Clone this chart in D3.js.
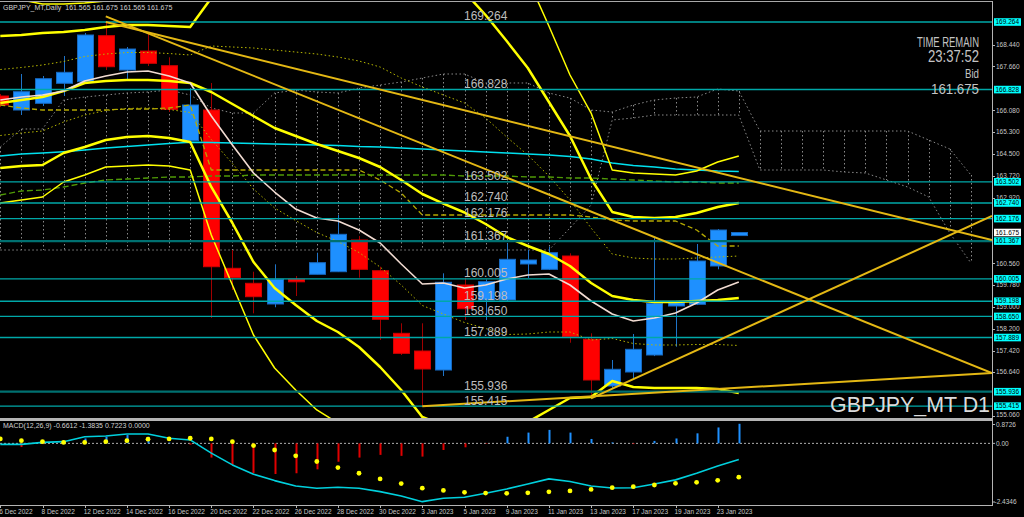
<!DOCTYPE html>
<html><head><meta charset="utf-8">
<script src="https://cdn.jsdelivr.net/npm/d3@7/dist/d3.min.js"></script>
<style>
html,body{margin:0;padding:0;background:#000;overflow:hidden;}
svg{display:block;font-family:"Liberation Sans",Arial,sans-serif;}
</style></head><body>
<svg id="c" width="1024" height="517"></svg>
<script>
// ---------- DATA ----------
const dateLabels = ["6 Dec 2022","8 Dec 2022","12 Dec 2022","14 Dec 2022","16 Dec 2022","20 Dec 2022","22 Dec 2022","26 Dec 2022","28 Dec 2022","30 Dec 2022","3 Jan 2023","5 Jan 2023","9 Jan 2023","11 Jan 2023","13 Jan 2023","17 Jan 2023","19 Jan 2023","23 Jan 2023"];
const dateLabelBars = [0,2,4,6,8,10,12,14,16,18,20,22,24,26,28,30,32,34];

const open  = [166.596,166.091,166.333,167.054,167.112,168.770,167.533,168.218,167.688,164.985,166.091,160.385,159.844,159.098,159.988,160.168,160.262,161.405,160.298,158.041,157.403,156.718,159.783,159.242,159.242,160.540,160.348,160.828,157.825,156.142,156.646,157.259,159.026,159.087,160.468,161.565];
const high  = [166.668,167.389,167.317,168.038,168.867,169.264,168.362,168.867,167.991,166.884,167.065,161.044,160.262,160.529,160.107,160.947,162.306,161.549,160.442,158.402,158.402,160.204,160.046,159.980,161.286,161.044,161.163,160.925,158.041,157.079,158.016,161.502,159.210,161.261,161.800,161.675];
const low   = [166.199,165.911,166.236,166.596,167.065,167.533,167.173,167.678,166.019,164.938,158.593,159.602,158.762,158.979,159.386,160.168,160.250,160.046,157.800,157.259,155.415,156.502,158.521,158.521,159.170,160.035,160.323,157.702,155.698,156.070,156.383,157.220,157.558,159.060,160.348,161.565];
const close = [166.272,166.751,167.220,167.450,168.795,167.652,168.290,167.775,166.116,166.272,160.442,160.046,159.361,159.988,159.901,160.587,161.610,160.348,158.546,157.320,156.754,159.880,158.928,159.901,160.709,160.684,160.947,157.919,156.358,156.744,157.464,159.123,159.144,160.648,161.765,161.675];

// Bollinger bands (middle, +-1, +-2, +-3 sigma)
const bbMid = [166.344,166.452,166.560,166.777,167.065,167.137,167.173,167.173,167.137,167.065,166.740,166.308,165.875,165.443,165.154,164.866,164.613,164.361,164.037,163.568,163.063,162.717,162.396,161.982,161.513,161.189,160.900,160.468,159.855,159.386,159.242,159.170,159.170,159.206,159.242,159.314];
const bbUp1 = [167.552,167.624,167.714,167.840,168.020,168.110,168.164,168.164,168.128,168.074,168.399,168.363,168.327,168.254,168.182,168.110,168.002,167.858,167.642,167.245,166.921,166.632,166.344,165.803,165.118,164.469,163.712,162.847,161.838,160.900,160.756,160.720,160.720,160.756,160.792,160.828];
const bbUp2 = [168.759,168.795,168.867,168.903,168.976,169.084,169.156,169.156,169.120,169.084,170.129,170.454,170.778,171.066,171.211,171.355,171.391,171.355,171.247,170.922,170.778,170.526,170.345,169.516,168.579,167.606,166.380,165.154,163.604,162.417,162.234,162.198,162.234,162.378,162.595,162.739];
const bbUp3 = [170.165,170.057,169.913,169.913,169.949,170.021,170.129,170.165,170.129,170.093,171.823,172.508,173.157,173.878,174.239,174.599,174.780,174.852,174.852,174.599,174.635,174.744,174.311,173.265,172.112,170.814,169.120,167.353,165.983,163.929,163.820,163.784,163.748,163.893,164.217,164.433];
const bbLo1 = [165.172,165.262,165.334,165.659,165.911,166.073,166.146,166.164,166.110,166.001,165.028,164.163,163.244,162.559,162.108,161.675,161.351,160.954,160.432,159.783,159.044,158.737,158.431,158.215,157.998,158.016,158.088,158.088,157.800,157.854,157.674,157.620,157.620,157.638,157.638,157.602];
const bbLo2 = [164.001,164.073,164.109,164.541,164.758,165.010,165.118,165.154,165.082,164.938,163.316,162.018,160.612,159.675,159.062,158.485,158.088,157.548,156.827,155.998,155.024,154.736,154.483,154.447,154.483,154.844,155.277,155.709,155.745,156.322,156.106,156.070,156.070,156.070,156.034,155.890];
const bbLo3 = [162.739,162.847,162.955,163.496,163.749,164.037,164.073,164.109,164.073,163.929,161.585,159.783,157.980,156.791,155.998,155.277,154.808,154.159,153.222,152.212,151.059,150.770,150.518,150.663,150.987,151.672,152.464,153.330,153.690,154.808,154.555,154.519,154.519,154.519,154.447,154.195];

// moving averages
const maFast = [166.452,166.560,166.632,166.777,167.137,167.317,167.461,167.497,167.317,167.065,165.875,164.830,163.820,163.135,162.522,162.198,162.090,161.765,161.297,160.540,159.819,159.855,159.675,159.783,159.999,160.143,160.180,159.783,159.206,158.737,158.485,158.593,158.773,159.133,159.602,159.891];
const maSlow = [164.433,164.505,164.541,164.588,164.649,164.722,164.776,164.830,164.884,164.927,164.920,164.902,164.884,164.866,164.848,164.830,164.812,164.776,164.758,164.722,164.686,164.649,164.613,164.577,164.541,164.505,164.469,164.415,164.325,164.181,164.091,164.037,163.965,163.928,163.892,163.874];

// Ichimoku
const tenkan = [166.272,166.164,166.091,166.091,166.091,166.091,166.128,166.128,166.164,166.272,163.928,163.928,163.928,163.928,163.928,163.928,163.928,163.928,163.568,163.099,162.306,162.306,162.306,162.306,162.306,162.306,162.306,162.306,162.234,162.126,162.090,162.090,162.090,161.765,161.189,161.189];
const kijun  = [163.027,163.171,163.207,163.316,163.460,163.568,163.604,163.640,163.676,163.676,163.712,163.712,163.748,163.748,163.748,163.748,163.748,163.748,163.748,163.748,163.748,163.748,163.712,163.712,163.712,163.676,163.676,163.640,163.640,163.604,163.568,163.532,163.496,163.496,163.460,163.460];
const spanUpper = [164.758,165.407,165.407,166.452,166.560,166.632,166.704,166.740,166.812,166.632,166.164,165.983,165.983,166.704,166.812,166.740,166.704,166.885,166.993,167.101,167.245,167.389,167.389,167.065,167.065,167.065,166.704,166.524,166.091,166.019,166.272,166.452,166.524,166.560,166.849,166.776,165.334,165.334,165.334,165.334,165.334,165.334,165.334,165.334,165.010,164.686,163.748];
const spanLower = [161.044,161.044,161.044,161.044,161.044,161.044,161.044,161.044,161.044,161.044,161.044,161.044,161.044,161.044,161.044,161.044,161.044,161.044,161.044,161.044,161.044,161.044,161.044,161.044,161.044,161.044,161.044,161.838,162.667,165.731,165.803,165.911,165.911,165.911,165.911,165.911,163.928,163.928,163.928,163.928,163.856,163.820,163.568,163.316,162.955,161.657,160.576];

// horizontal levels and trend lines (bar index, price)
const levels = [169.264,166.828,163.502,162.740,162.176,161.367,160.005,159.198,158.650,157.889,155.936,155.415];
const darkLevels = [161.367,155.936];
const trendFrom = [[5,169.264],[5,169.469],[20,155.415],[28,155.698]];
const trendTo   = [[47,161.405],[47,156.610],[47,156.610],[47,162.270]];
const bid = 161.675;
const priceTicks = [168.440,167.660,166.080,165.300,164.500,163.720,162.920,160.560,159.780,159.000,158.200,157.420,156.640,155.060];

// MACD(12,26,9)
const macd   = [-0.04,-0.04,0.04,0.07,0.27,0.30,0.38,0.38,0.21,0.14,-0.40,-0.88,-1.26,-1.52,-1.74,-1.83,-1.79,-1.83,-1.97,-2.15,-2.38,-2.24,-2.20,-2.04,-1.86,-1.66,-1.45,-1.56,-1.74,-1.82,-1.81,-1.66,-1.49,-1.22,-0.92,-0.66];
const signal = [0.18,0.11,0.07,0.04,0.04,0.07,0.11,0.17,0.18,0.21,0.18,0.07,-0.09,-0.27,-0.51,-0.74,-0.99,-1.22,-1.45,-1.64,-1.83,-1.92,-2.00,-2.03,-2.04,-2.02,-1.98,-1.94,-1.88,-1.81,-1.77,-1.70,-1.63,-1.59,-1.51,-1.38];
const hist   = [0,-0.15,-0.03,0.03,0.20,0.27,0.34,0.27,0.03,-0.05,-0.58,-0.88,-1.22,-1.25,-1.22,-1.06,-0.75,-0.58,-0.47,-0.51,-0.54,-0.27,-0.16,-0.02,0.27,0.44,0.55,0.44,0.18,0.04,-0.03,0.10,0.20,0.41,0.65,0.80];
const macdTicks = [0.8726,0,-2.4346];
const macdTickText = ["0.8726","0.00","-2.4346"];
const macdTitleValues = [-0.6612,-1.3835,0.7223,0.0000];

// ---------- DRAW ----------
const svg = d3.select("#c");
const PR = 992;
const x = d3.scaleLinear().domain([0,47]).range([0.3,992]);
const y = d3.scaleLinear().domain([154.952,169.985]).range([419,2]);
const ym = d3.scaleLinear().domain([-2.4346,0.8726]).range([503,422]);

svg.append("rect").attr("width",1024).attr("height",517).attr("fill","#000");
const defs = svg.append("defs");
defs.append("clipPath").attr("id","cm").append("rect").attr("x",0).attr("y",2).attr("width",PR).attr("height",416);
defs.append("clipPath").attr("id","cs").append("rect").attr("x",0).attr("y",421).attr("width",PR).attr("height",84);

const gm = svg.append("g").attr("clip-path","url(#cm)");
const lineGen = sc => d3.line().x((d,i)=>x(i)).y(d=>sc(d));
const px = v => Math.round(v)+0.5;

// cloud
gm.append("path").attr("d",lineGen(y)(spanUpper)).attr("fill","none").attr("stroke","#8a8a8a").attr("stroke-width",1).attr("stroke-dasharray","1.5,2.5");
gm.append("path").attr("d",lineGen(y)(spanLower)).attr("fill","none").attr("stroke","#8a8a8a").attr("stroke-width",1).attr("stroke-dasharray","1.5,2.5");
gm.selectAll("line.hatch").data(spanUpper).enter().append("line").attr("class","hatch")
  .attr("x1",(d,i)=>px(x(i))).attr("x2",(d,i)=>px(x(i)))
  .attr("y1",d=>y(d)).attr("y2",(d,i)=>y(spanLower[i]))
  .attr("stroke","#8a8a8a").attr("stroke-width",1).attr("stroke-dasharray","1.5,2.5");

// candles
const cg = gm.append("g");
open.forEach((o,i)=>{
  const c = close[i], up = c>=o;
  cg.append("line").attr("x1",px(x(i))).attr("x2",px(x(i))).attr("y1",y(high[i])).attr("y2",y(low[i]))
    .attr("stroke",up?"#1f74c8":"#a00000").attr("stroke-width",1);
  const t = y(Math.max(o,c)), b = y(Math.min(o,c));
  cg.append("rect").attr("x",Math.round(x(i))-7.5).attr("y",t).attr("width",16).attr("height",Math.max(b-t,2.5))
    .attr("fill",up?"#1e90ff":"#ff0000").attr("stroke",up?"#1769c0":"#d00000").attr("stroke-width",1);
});

// bands
const drawL = (arr,col,w,dash,g=gm,sc=y)=>g.append("path").attr("d",lineGen(sc)(arr)).attr("fill","none")
  .attr("stroke",col).attr("stroke-width",w).attr("stroke-dasharray",dash||null).attr("stroke-linejoin","round");
drawL(bbUp1,"#b8b800",1,"1.5,2.5");
drawL(bbLo1,"#b8b800",1,"1.5,2.5");
drawL(tenkan,"#b4a800",1.3,"5,3");
drawL(kijun,"#4f9a06",1.3,"6,3");
drawL(maSlow,"#00e0ee",1.6);
drawL(bbUp3,"#ffff00",1.5);
drawL(bbLo3,"#ffff00",1.5);
drawL(bbUp2,"#ffff00",2.5);
drawL(bbLo2,"#ffff00",2.5);
drawL(bbMid,"#ffff00",2.5);
drawL(maFast,"#f2dcd2",1.6);

// horizontal levels
levels.forEach(v=>{
  const dark = darkLevels.includes(v);
  gm.append("line").attr("x1",0).attr("x2",PR).attr("y1",y(v)).attr("y2",y(v))
    .attr("stroke",dark?"#007070":"#00a8a8").attr("stroke-width",dark?2.2:1.4);
});
// trend lines
trendFrom.forEach((a,i)=>{
  const b = trendTo[i];
  gm.append("line").attr("x1",x(a[0])).attr("y1",y(a[1])).attr("x2",x(b[0])).attr("y2",y(b[1]))
    .attr("stroke","#e4b814").attr("stroke-width",2);
});
// level texts
levels.forEach(v=>{
  svg.append("text").attr("x",464).attr("y",y(v)-1.5).attr("font-size",12).attr("fill","#bdbdbd").text(v.toFixed(3));
});

// panel borders
svg.append("line").attr("x1",0).attr("x2",PR).attr("y1",1.5).attr("y2",1.5).attr("stroke","#a8a8a8").attr("stroke-width",1);
svg.append("line").attr("x1",0).attr("x2",PR+1).attr("y1",505.5).attr("y2",505.5).attr("stroke","#b4b4b4").attr("stroke-width",1);
svg.append("line").attr("x1",PR+0.5).attr("x2",PR+0.5).attr("y1",1).attr("y2",506).attr("stroke","#b4b4b4").attr("stroke-width",1);

// price axis
priceTicks.forEach(v=>{
  svg.append("line").attr("x1",PR).attr("x2",PR+3).attr("y1",px(y(v))).attr("y2",px(y(v))).attr("stroke","#b4b4b4");
  svg.append("text").attr("x",996).attr("y",Math.min(y(v),415)).attr("dy","0.35em").attr("font-size",6.5).attr("fill","#c8c8c8").text(v.toFixed(3));
});
levels.forEach(v=>{
  svg.append("rect").attr("x",994).attr("y",y(v)-3.8).attr("width",27).attr("height",7.6).attr("fill","#00ffff");
  svg.append("text").attr("x",995.5).attr("y",y(v)).attr("dy","0.35em").attr("font-size",6.5).attr("fill","#000").text(v.toFixed(3));
});
svg.append("rect").attr("x",994).attr("y",y(bid)-3.8).attr("width",27).attr("height",7.6).attr("fill","#ffffff");
svg.append("text").attr("x",995.5).attr("y",y(bid)).attr("dy","0.35em").attr("font-size",6.5).attr("fill","#000").text(bid.toFixed(3));

// texts
svg.append("text").attr("x",3).attr("y",10).attr("font-size",7).attr("fill","#d0d0d0").attr("xml:space","preserve")
  .text("GBPJPY_MT,Daily  "+[open[35],high[35],low[35],close[35]].map(v=>v.toFixed(3)).join(" "));
const rt = (t,yy,fs,len)=>svg.append("text").attr("x",979).attr("y",yy).attr("text-anchor","end").attr("font-size",fs)
  .attr("fill","#c4c4c4").attr("textLength",len).attr("lengthAdjust","spacingAndGlyphs").text(t);
rt("TIME REMAIN",47,14,62);
rt("23:37:52",62,16.5,51);
rt("Bid",78,12.5,14);
rt(bid.toFixed(3),93.5,15,48);
svg.append("text").attr("x",990).attr("y",412).attr("text-anchor","end").attr("font-size",22).attr("fill","#dcdcdc")
  .attr("textLength",160).attr("lengthAdjust","spacingAndGlyphs").text("GBPJPY_MT D1");
svg.append("rect").attr("x",0).attr("y",418).attr("width",PR+1).attr("height",3).attr("fill","#b4b4b4");

// MACD panel
const gs = svg.append("g").attr("clip-path","url(#cs)");
gs.append("line").attr("x1",0).attr("x2",PR).attr("y1",ym(0)).attr("y2",ym(0)).attr("stroke","#b0b0b0").attr("stroke-width",1).attr("stroke-dasharray","2,2");
hist.forEach((h,i)=>{
  if (Math.abs(h) < 0.005) return;
  gs.append("line").attr("x1",px(x(i))).attr("x2",px(x(i))).attr("y1",ym(0)).attr("y2",ym(h))
    .attr("stroke",h>0?"#1e90ff":"#e00000").attr("stroke-width",2);
});
drawL(macd,"#00d0dd",1.6,null,gs,ym);
gs.selectAll("circle").data(signal).enter().append("circle").attr("cx",(d,i)=>x(i)).attr("cy",d=>ym(d)).attr("r",2.4).attr("fill","#ffff00");
svg.append("text").attr("x",3).attr("y",427.5).attr("font-size",7).attr("fill","#d0d0d0")
  .text("MACD(12,26,9) "+macdTitleValues.map(v=>v.toFixed(4)).join(" "));
macdTicks.forEach((v,i)=>{
  const yy = Math.min(Math.max(ym(v),424.5),502);
  svg.append("line").attr("x1",PR).attr("x2",PR+3).attr("y1",yy).attr("y2",yy).attr("stroke","#b4b4b4");
  svg.append("text").attr("x",v<0?994.5:996).attr("y",yy).attr("dy","0.35em").attr("font-size",6.5).attr("fill","#c8c8c8").text(macdTickText[i]);
});

// date axis
dateLabelBars.forEach((b,i)=>{
  svg.append("line").attr("x1",px(x(b))).attr("x2",px(x(b))).attr("y1",505).attr("y2",508).attr("stroke","#b4b4b4");
  svg.append("text").attr("x",x(b)-1).attr("y",514).attr("font-size",6.5).attr("fill","#c8c8c8").text(dateLabels[i]);
});
</script>
</body></html>
